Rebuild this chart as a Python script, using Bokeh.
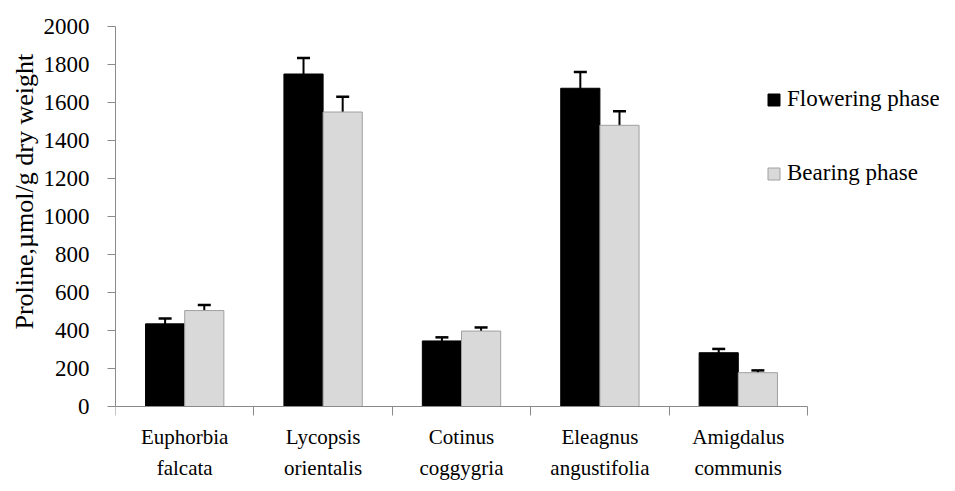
from bokeh.plotting import figure
from bokeh.models import (ColumnDataSource, Range1d, FixedTicker, Whisker, Legend,
                          LegendItem, Title)
from bokeh.embed import file_html
from bokeh.resources import INLINE

categories = ["Euphorbia\nfalcata", "Lycopsis\norientalis", "Cotinus\ncoggygria",
              "Eleagnus\nangustifolia", "Amigdalus\ncommunis"]
flowering = [435, 1750, 345, 1675, 283]
flowering_err = [28, 84, 19, 86, 20]
bearing = [505, 1550, 397, 1480, 178]
bearing_err = [29, 80, 19, 74, 12]
y_ticks = [0, 200, 400, 600, 800, 1000, 1200, 1400, 1600, 1800, 2000]
series_names = ["Flowering phase", "Bearing phase"]
y_label = "Proline,\u00b5mol/g dry weight"

FONT = "Liberation Serif"
AXIS_COLOR = "#8a8a8a"
BAR_W = 0.283
N = len(categories)
Y_MAX = 2000
# frame spans 26..483 px; value axis 0..2000 occupies 26..406 px
Y_MIN = -Y_MAX * (483 - 406) / (406 - 26)

centers = [i + 0.5 for i in range(N)]
src_f = ColumnDataSource(dict(
    x=[c - BAR_W / 2 for c in centers], top=flowering,
    upper=[v + e for v, e in zip(flowering, flowering_err)],
    lower=[v - e for v, e in zip(flowering, flowering_err)]))
src_b = ColumnDataSource(dict(
    x=[c + BAR_W / 2 for c in centers], top=bearing,
    upper=[v + e for v, e in zip(bearing, bearing_err)],
    lower=[v - e for v, e in zip(bearing, bearing_err)]))

p = figure(width=939, height=483, x_range=Range1d(0, N * 824 / 692),
           y_range=Range1d(Y_MIN, Y_MAX), output_backend="svg", toolbar_location=None,
           min_border_left=115, min_border_right=0, min_border_top=26,
           min_border_bottom=0)
p.outline_line_color = None
p.grid.visible = False
p.background_fill_color = "white"
p.border_fill_color = "white"

r_f = p.vbar(x="x", top="top", bottom=0, width=BAR_W, source=src_f,
             fill_color="black", line_color="black", line_width=1)
r_b = p.vbar(x="x", top="top", bottom=0, width=BAR_W, source=src_b,
             fill_color="#d9d9d9", line_color="#a0a0a0", line_width=1)

for src in (src_f, src_b):
    w = Whisker(base="x", upper="upper", lower="lower", source=src,
                line_color="black", line_width=2)
    for h in (w.upper_head, w.lower_head):
        h.size = 13
        h.line_width = 2.5
        h.line_color = "black"
    p.add_layout(w)

# y axis
ya = p.yaxis[0]
ya.bounds = (0, Y_MAX)
ya.ticker = FixedTicker(ticks=y_ticks)
ya.axis_line_color = AXIS_COLOR
ya.major_tick_line_color = AXIS_COLOR
ya.major_tick_out = 8
ya.major_tick_in = 0
ya.minor_tick_line_color = None
ya.major_label_standoff = 18
ya.major_label_text_font = FONT
ya.major_label_text_font_size = "23px"
ya.major_label_text_color = "black"

# y axis title, placed along the value part of the axis
p.add_layout(Title(text=y_label, align="left", offset=154, text_font=FONT,
                   text_font_size="26px", text_font_style="normal",
                   text_color="black", standoff=4), "left")

# x axis, pinned at value 0 inside the frame
xa = p.xaxis[0]
xa.fixed_location = 0
xa.bounds = (0, N)
xa.ticker = FixedTicker(ticks=centers, minor_ticks=list(range(N + 1)))
xa.major_label_overrides = {c: lab for c, lab in zip(centers, categories)}
xa.axis_line_color = AXIS_COLOR
xa.major_tick_line_color = None
xa.major_tick_out = 0
xa.major_tick_in = 0
xa.minor_tick_line_color = AXIS_COLOR
xa.minor_tick_out = 9
xa.minor_tick_in = 0
xa.major_label_standoff = 9
xa.major_label_text_font = FONT
xa.major_label_text_font_size = "21px"
xa.major_label_text_color = "black"
xa.major_label_text_line_height = 1.3

legend = Legend(items=[LegendItem(label=series_names[0], renderers=[r_f]),
                       LegendItem(label=series_names[1], renderers=[r_b])],
                location=(651, 297), orientation="vertical",
                glyph_width=15, glyph_height=15, label_standoff=6,
                spacing=48, padding=0, margin=0,
                border_line_color=None, background_fill_alpha=0,
                label_text_font=FONT, label_text_font_size="23px",
                label_text_color="black")
p.add_layout(legend, "center")

open("out.html", "w").write(file_html(p, INLINE))
